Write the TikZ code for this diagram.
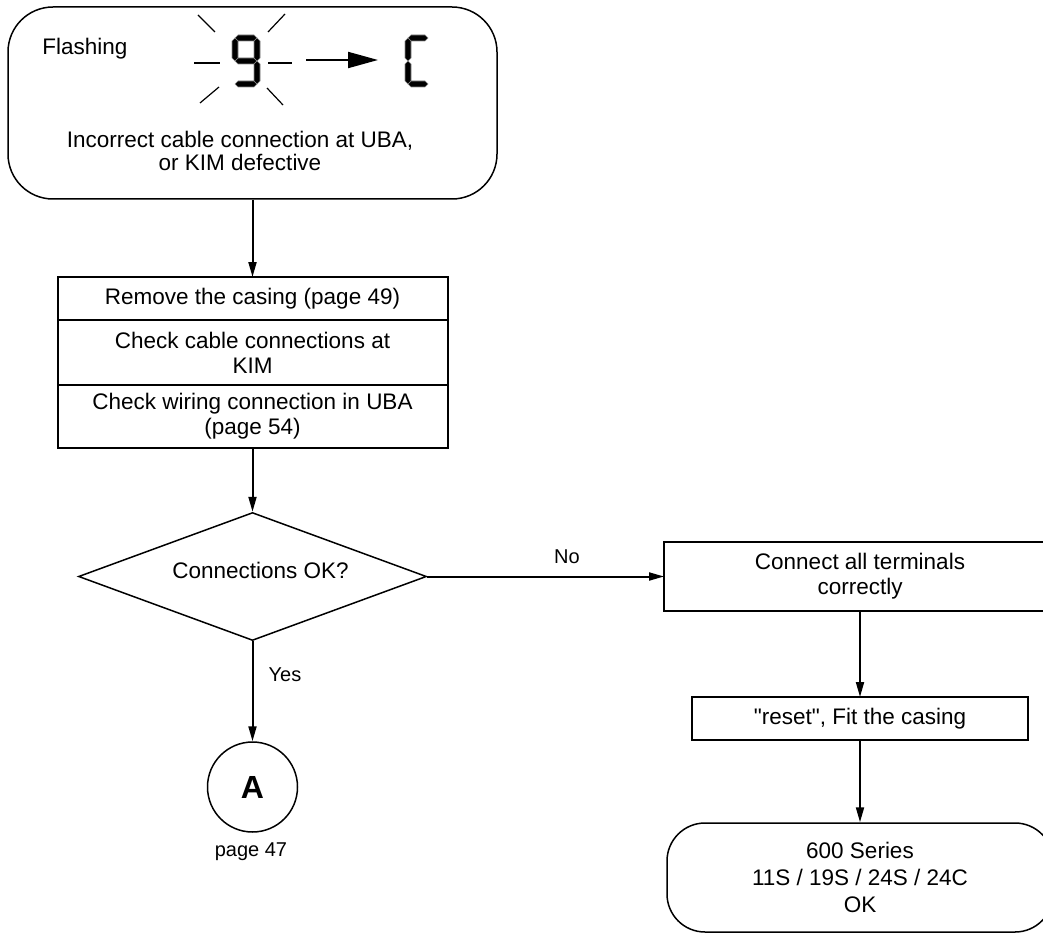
\documentclass[tikz,border=0pt]{standalone}
\usepackage{fontspec}
\setmainfont{Liberation Sans}[Ligatures=TeXOff]
\usetikzlibrary{positioning,arrows.meta,shapes.geometric}
% seven-segment pieces: horizontal (x1,x2,y) and vertical (x,y1,y2)
\newcommand{\segH}[3]{\filldraw[seg] (#1,#3) -- ({#1+3},{#3-3}) -- ({#2-3},{#3-3}) -- (#2,#3) -- ({#2-3},{#3+3}) -- ({#1+3},{#3+3}) -- cycle;}
\newcommand{\segV}[3]{\filldraw[seg] (#1,#2) -- ({#1+3},{#2+3}) -- ({#1+3},{#3-3}) -- (#1,#3) -- ({#1-3},{#3-3}) -- ({#1-3},{#2+3}) -- cycle;}

\begin{document}
\begin{tikzpicture}[x=1pt,y=-1pt,
    font=\fontsize{22.5}{25}\selectfont,
    cell/.style={draw,line width=2pt,outer sep=0pt,inner sep=0pt,align=center,minimum width=390pt},
    rbox/.style={draw,line width=1.5pt,align=center,inner sep=0pt},
    lbl/.style={inner sep=0pt,font=\fontsize{20}{24}\selectfont},
    seg/.style={fill=black,draw=black!45,line width=0.6pt},
    ray/.style={line width=1.2pt},
    arr/.style={-{Triangle[length=15pt,width=8pt]},line width=2pt}]
    \useasboundingbox (0,0) rectangle (1043,933);
    \clip (0,0) rectangle (1043,933);
    % display box
    \node[rbox,rounded corners=45pt,minimum width=489pt,minimum height=192pt] (flash) at (252.5,103) {};
    \node[inner sep=0pt] (flashlbl) at (85,49) {Flashing};
    \node[inner sep=0pt,align=center,font=\fontsize{22.5}{23}\selectfont] (fault) at (240,151) {Incorrect cable connection at UBA,\\or KIM defective};
    \segH{235}{257}{38} \segH{235}{257}{61} \segH{235}{257}{84}
    \segV{235}{38}{61} \segV{257}{38}{61} \segV{257}{61}{84}
    \segH{408}{428}{38} \segH{408}{428}{84}
    \segV{408}{38}{61} \segV{408}{61}{84}
    \foreach \xa/\ya/\xb/\yb in {194/63/220/63,268/63/292/63,198/15/215/32,268/32/285/14,219/87/200/103,267/88/283/105}
      \draw[ray] (\xa,\ya) -- (\xb,\yb);
    \coordinate (blinkS) at (306,60);
    \coordinate (blinkE) at (378,60);
    \draw[-{Triangle[length=30pt,width=16pt]},line width=2pt] (blinkS) -- (blinkE);
    % checks
    \node[cell,minimum height=43pt] (rem) at (252.5,298.5) {Remove the casing (page 49)};
    \node[cell,minimum height=65pt,below=0pt of rem] (kim) {Check cable connections at\\KIM};
    \node[cell,minimum height=63pt,below=0pt of kim] (wir) {Check wiring connection in UBA\\(page 54)};
    \node[diamond,draw,line width=1.5pt,inner sep=0pt,minimum width=348pt,minimum height=128pt,
      label={[name=oktxt,xshift=8pt,yshift=6pt]center:Connections OK?}] (ok) at (252.5,576.5) {};
    \node[circle,draw,line width=1.5pt,minimum size=90pt,inner sep=0pt,font=\fontsize{32}{32}\selectfont\bfseries] (circA) at (252.5,787) {A};
    \node[lbl] (pg) at (251,852) {page 47};
    \node[lbl] (yes) at (285,675) {Yes};
    \node[lbl] (no) at (567,557) {No};
    % repair branch
    \node[cell,minimum width=392pt,minimum height=69pt] (conn) at (860,576.5) {Connect all terminals\\correctly};
    \node[cell,minimum width=336pt,minimum height=43pt] (reset) at (860,718.5) {"reset", Fit the casing};
    \node[rbox,rounded corners=38pt,minimum width=386pt,minimum height=109pt,font=\fontsize{22.5}{27}\selectfont] (done) at (860,877.5) {600 Series\\11S / 19S / 24S / 24C\\OK};
    \draw[arr] (flash) -- (rem);
    \draw[arr] (wir) -- (ok);
    \draw[arr] (ok.east) -- (conn.west);
    \draw[arr] (ok.south) -- (circA.north);
    \draw[arr] (conn) -- (reset);
    \draw[arr] (reset) -- (done);
\end{tikzpicture}
\end{document}
